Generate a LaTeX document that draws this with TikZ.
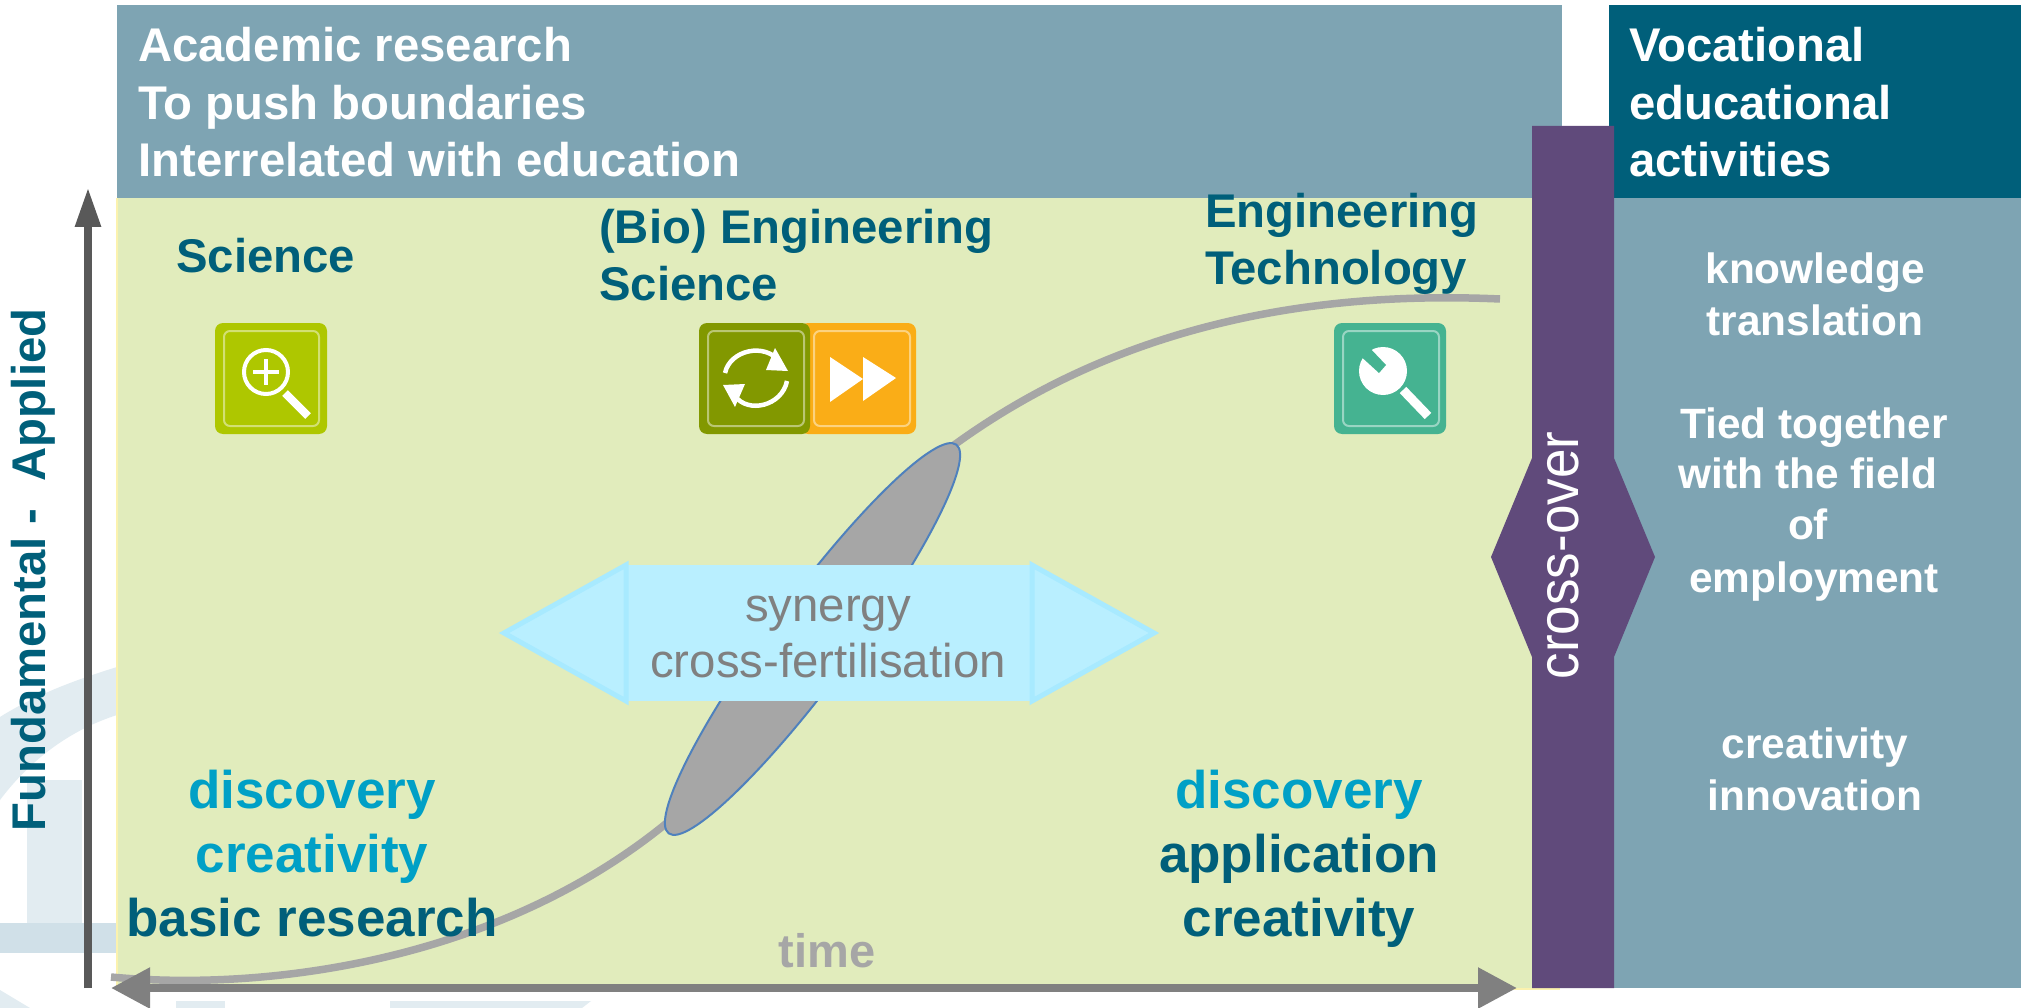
\documentclass[tikz,border=0pt]{standalone}
\usepackage{fontspec}
\usepackage{graphicx}
\setmainfont{Liberation Sans}
\usetikzlibrary{arrows.meta}
\definecolor{panelblue}{HTML}{7EA4B3}
\definecolor{darkteal}{HTML}{005F7A}
\definecolor{fieldgreen}{HTML}{E1ECBC}
\definecolor{crosspurple}{HTML}{604A7B}
\definecolor{brightblue}{HTML}{00A0C6}
\definecolor{curvegray}{HTML}{A6A6A6}
\definecolor{ellipseedge}{HTML}{4F81BD}
\definecolor{arrowfill}{HTML}{B9EFFF}
\definecolor{arrowedge}{HTML}{A8EAFF}
\definecolor{icolime}{HTML}{AEC700}
\definecolor{icoolive}{HTML}{829800}
\definecolor{icoorange}{HTML}{FAAD17}
\definecolor{icogreen}{HTML}{45B391}
\definecolor{wmark}{HTML}{D0E0E8}
\definecolor{wmarklight}{HTML}{E2ECF1}
\definecolor{edgeyellow}{HTML}{FBF2AE}
\tikzset{
  big/.style={font=\bfseries\fontsize{47.3}{57.5}\selectfont,inner sep=0pt,anchor=base west,align=left},
  col/.style={font=\bfseries\fontsize{42.4}{51.5}\selectfont,text=white,inner sep=0pt,anchor=base,align=center},
  huge/.style={font=\bfseries\fontsize{53}{64}\selectfont,inner sep=0pt,anchor=base,align=center},
  thintext/.style={font=\fontsize{47.4}{56}\selectfont,text=gray,inner sep=0pt,anchor=base,align=center},
  icoinner/.style={draw=white!45!#1,line width=2pt,rounded corners=6pt},
  axis/.style={line width=8.5pt},
  glyph/.style={draw=white,fill=none,line width=4pt},
  heads/.style={fill=arrowfill,draw=arrowedge,line width=5pt,miter limit=10},
}
\begin{document}
\begin{tikzpicture}[x=1pt,y=-1pt]
\useasboundingbox (0,0) rectangle (2021,1008);
\fill[white] (0,0) rectangle (2021,1008);
% faint background
\begin{scope}
\clip (0,600) rectangle (117,1008);
\fill[wmarklight] (0,717) .. controls (35,695) and (75,680) .. (117,667) -- (117,715) .. controls (70,730) and (30,760) .. (0,800) -- cycle;
\fill[wmarklight] (27,780) rectangle (82,925);
\fill[wmark] (0,923) rectangle (117,953);
\fill[wmarklight] (0,990) -- (30,1008) -- (0,1008) -- cycle;
\end{scope}
\fill[wmarklight] (176,1001) rectangle (225,1008);
\fill[wmarklight] (390,1001) -- (591,1001) -- (582,1008) -- (390,1008) -- cycle;
% panels
\fill[panelblue] (117,5) rectangle (1562,198);
\fill[darkteal] (1609,5) rectangle (2021,198);
\fill[edgeyellow] (115.5,198) rectangle (1560,990);
\fill[fieldgreen] (118,198) rectangle (1533,988);
\fill[panelblue] (1614,198) rectangle (2021,988);
% curve
\draw[curvegray,line width=7.5pt] (111,977) .. controls (270,992) and (500,960) .. (668,822);
\draw[curvegray,line width=7.5pt] (950,448) .. controls (1110,330) and (1300,290) .. (1500,299);
\fill[curvegray,draw=ellipseedge,line width=2pt,rotate around={53.5:(812.5,639)}] (812.5,639) ellipse [x radius=241.8,y radius=41.2];
% crossover
\fill[crosspurple] (1532,126) -- (1614,126) -- (1614,458) -- (1655,557) -- (1614,657) -- (1614,988) -- (1532,988) -- (1532,657) -- (1491,557) -- (1532,458) -- cycle;
\node[rotate=90,text=white,inner sep=0pt,anchor=base,font=\fontsize{53}{60}\selectfont] (crossover) at (1578,555.5) {\scalebox{1}[1.09]{cross-over}};
% axes
\coordinate (ybot) at (88,988);
\coordinate (ytop) at (88,187);
\coordinate (xl) at (111,988);
\coordinate (xr) at (1517,988);
\draw[axis,draw=black!65,-{Triangle[length=40pt,width=24pt]}] (ybot) -- (ytop);
\draw[axis,draw=gray,{Triangle[length=39pt,width=39pt]}-{Triangle[length=39pt,width=39pt]}] (xl) -- (xr);
% double arrow
\fill[arrowfill] (626,565) rectangle (1031,701);
\filldraw[heads] (626,565) -- (626,701) -- (504,633) -- cycle;
\filldraw[heads] (1032,565) -- (1032,701) -- (1154,633) -- cycle;
% headers
\node[big,text=white] (acad) at (138,177) {Academic research\\To push boundaries\\Interrelated with education};
\node[big,text=white] (voc) at (1629,177) {Vocational\\educational\\activities};
\node[big,text=darkteal] (sci) at (176,273) {Science};
\node[big,text=darkteal] (bio) at (599,301) {(Bio) Engineering\\Science};
\node[big,text=darkteal] (eng) at (1205,285) {Engineering\\Technology};
% right column
\node[col] (kn) at (1815,335) {knowledge\\translation};
\node[col] (tied1) at (1814,438) {Tied together};
\node[col] (tied2) at (1808,488) {with the field};
\node[col] (tied3) at (1808,539) {of};
\node[col] (tied4) at (1814,592) {employment};
\node[col] (cre) at (1815,810) {creativity\\innovation};
% big lower text
\node[huge,text=brightblue] (d1) at (312,872) {discovery\\creativity};
\node[huge,text=darkteal] (b1) at (312,936) {basic research};
\node[huge,text=brightblue] (d2) at (1299,808) {discovery};
\node[huge,text=darkteal] (a2) at (1299,936) {application\\creativity};
\node[font=\bfseries\fontsize{47}{57}\selectfont,text=curvegray,inner sep=0pt,anchor=base] (time) at (827,967) {time};
\node[thintext] (syn) at (828,677) {synergy\\cross-fertilisation};
\node[rotate=90,text=darkteal,inner sep=0pt,anchor=base,font=\bfseries\fontsize{47.3}{50}\selectfont] (fa) at (45,570) {Fundamental -\ \ Applied};
% icons
\fill[icolime,rounded corners=8pt] (215,323) rectangle (327,434);
\draw[icoinner=icolime] (224,331) rectangle (319,426);
\draw[glyph] (266,372) circle (22);
\draw[glyph] (266,359) -- (266,385) (253,372) -- (279,372);
\draw[white,line width=8pt] (285,393) -- (308,416);
\fill[icoorange,rounded corners=8pt] (800,323) rectangle (916,434);
\draw[icoinner=icoorange] (814,331) rectangle (910,426);
\fill[white] (830,357) -- (863,379) -- (830,402) -- cycle;
\fill[white] (863,357) -- (896,378) -- (863,401) -- cycle;
\fill[icoolive,rounded corners=8pt] (699,323) rectangle (810,434);
\draw[icoinner=icoolive] (708,331) rectangle (804,426);
\draw[white,line width=4.5pt] (725,373) .. controls (730,350) and (765,342) .. (780,362);
\fill[white] (775,348) -- (788,371) -- (766,370) -- cycle;
\draw[white,line width=4.5pt] (787,381) .. controls (782,406) and (748,414) .. (735,396);
\fill[white] (723,385) -- (745,384) -- (735,407) -- cycle;
\fill[icogreen,rounded corners=8pt] (1334,323) rectangle (1446,434);
\draw[icoinner=icogreen] (1343,331) rectangle (1439,426);
\fill[white] (1383,371) circle (24);
\fill[icogreen] (1366,344) -- (1386,365) -- (1379,373) -- (1356,352) -- cycle;
\draw[white,line width=9pt] (1403,390) -- (1428,416);
\end{tikzpicture}
\end{document}
